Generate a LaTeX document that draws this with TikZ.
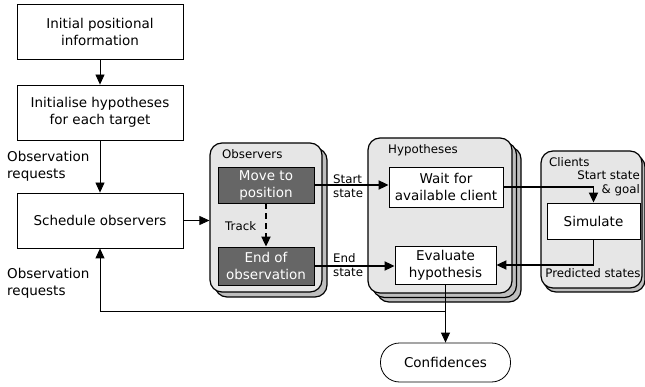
\documentclass[tikz,border=0pt]{standalone}
\usepackage{fontspec}
\setmainfont{DejaVu Sans}
\usetikzlibrary{arrows.meta,positioning,calc}
\definecolor{grpfill}{HTML}{E6E6E6}
\definecolor{platefill}{HTML}{BEBEBE}
\definecolor{darkfill}{HTML}{666666}
\tikzset{
  big/.style={font=\fontsize{13.5}{17}\selectfont},
  small/.style={font=\fontsize{11.8}{14}\selectfont},
  box/.style={draw, fill=white, line width=0.8pt, align=center, inner sep=0pt, big},
  darkbox/.style={draw, fill=darkfill, text=white, line width=0.8pt, align=center, inner sep=0pt, big},
  grp/.style={draw, fill=grpfill, line width=1.2pt, rounded corners=12pt, inner sep=0pt},
  plate/.style={draw, fill=platefill, line width=1.2pt, rounded corners=12pt},
  thinarrow/.style={line width=0.8pt, -{Triangle[length=10pt,width=9pt]}},
  thickarrow/.style={line width=1.8pt, -{Triangle[length=10pt,width=9pt]}},
  lbl/.style={align=left, inner sep=0pt},
}
\begin{document}
\begin{tikzpicture}[x=1pt,y=-1pt]
\useasboundingbox (0,0) rectangle (645,387);
% groups with plates
\draw[plate] (215,148) rectangle (327,297);
\node[grp, minimum width=112pt, minimum height=149pt] (obsG) at (266,217.5) {};
\draw[plate] (377,147) rectangle (521,302);
\draw[plate] (372.5,142.5) rectangle (516.5,297.5);
\node[grp, minimum width=144pt, minimum height=155pt] (hypG) at (440,215.5) {};
\draw[plate] (544,155) rectangle (645,292);
\node[grp, minimum width=101pt, minimum height=137pt] (cliG) at (591.5,219.5) {};

% boxes
\node[box, minimum width=166pt, minimum height=55pt] (init) at (100,31.5) {Initial positional\\information};
\node[box, minimum width=166pt, minimum height=55pt] (inith) at (100,112.5) {Initialise hypotheses\\for each target};
\node[box, minimum width=166pt, minimum height=55pt] (sched) at (100,220.5) {Schedule observers};
\node[darkbox, minimum width=96pt, minimum height=36pt] (move) at (266,185) {Move to\\position};
\node[darkbox, minimum width=96pt, minimum height=38pt] (endobs) at (266,266) {End of\\observation};
\node[box, minimum width=114pt, minimum height=40pt] (wait) at (446,187) {Wait for\\available client};
\node[box, minimum width=101pt, minimum height=38pt] (eval) at (445.5,265) {Evaluate\\hypothesis};
\node[box, minimum width=93pt, minimum height=36pt] (sim) at (593.5,221) {Simulate};
\node[box, minimum width=130pt, minimum height=39pt, rounded corners=19pt] (conf) at (445.5,362.5) {Confidences};

% labels
\node[lbl, big, anchor=west] (req1) at (7,166) {Observation\\requests};
\node[lbl, big, anchor=west] (req2) at (7,283) {Observation\\requests};
\node[lbl, small, anchor=west] (obsL) at (222,154) {Observers};
\node[lbl, small, anchor=west] (hypL) at (388,150) {Hypotheses};
\node[lbl, small, anchor=west] (cliL) at (549,162) {Clients};
\node[lbl, small, anchor=west] (trackL) at (225,226) {Track};
\node[lbl, small, anchor=west] (startL) at (333,186) {Start\\state};
\node[lbl, small, anchor=west] (endL) at (333,265) {End\\state};
\node[lbl, small, align=right, anchor=east] (sgL) at (640,183) {Start state\\\& goal};
\node[lbl, small, anchor=center] (predL) at (593,273) {Predicted states};

% connectors
\draw[thinarrow] (init.south) -- (inith.north);
\draw[thinarrow] (inith.south) -- (sched.north);
\draw[thinarrow] (sched.east) -- (obsG.west |- sched.east);
\draw[thickarrow, dash pattern=on 6pt off 4pt] (move.south) -- (endobs.north);
\draw[thickarrow] (move.east) -- (move.east -| wait.west);
\draw[thickarrow] (endobs.east) -- (endobs.east -| eval.west);
\draw[thickarrow] (wait.east) -| (sim.north);
\draw[thickarrow] (sim.south) |- (eval.east);
\draw[thinarrow] (eval.south) -- (conf.north);
\coordinate (fbc) at (eval.south |- 0,311);
\draw[thinarrow] (fbc) -| (sched.south);
\end{tikzpicture}
\end{document}
